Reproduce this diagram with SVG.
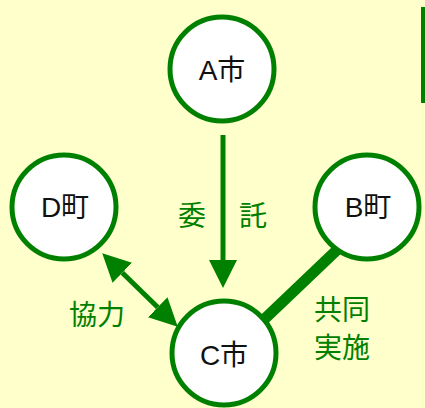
<svg xmlns="http://www.w3.org/2000/svg" width="425" height="408" viewBox="0 0 425 408">
  <defs>
    <style>
      .node circle { fill: #ffffff; stroke: #008000; stroke-width: 5; }
      .node text { font-family: "Liberation Sans", "Noto Sans CJK JP", sans-serif; font-size: 28px; fill: #111111; text-anchor: middle; }
      .label { font-family: "Noto Sans CJK JP", "Liberation Sans", sans-serif; font-size: 28px; fill: #008000; text-anchor: middle; }
      .conn { stroke: #008000; fill: none; }
    </style>
    <marker id="head" viewBox="0 0 28 28" markerUnits="userSpaceOnUse" markerWidth="28" markerHeight="28" refX="0" refY="14" orient="auto-start-reverse">
      <path d="M0,0 L28,14 L0,28 Z" fill="#008000"/>
    </marker>
  </defs>

  <!-- background -->
  <rect x="0" y="0" width="425" height="408" fill="#ffffcc"/>
  <!-- bar at the right edge -->
  <rect x="421" y="7" width="6" height="96" fill="#008000"/>

  <!-- connectors -->
  <g id="connectors">
    <!-- A -> C (委託) -->
    <line class="conn" x1="223" y1="135" x2="223" y2="260" stroke-width="5" marker-end="url(#head)"/>
    <!-- D <-> C (協力) -->
    <line class="conn" x1="122.3" y1="272.8" x2="157.7" y2="307.2" stroke-width="5" marker-start="url(#head)" marker-end="url(#head)"/>
    <!-- B - C (共同実施) -->
    <line class="conn" x1="232" y1="350" x2="360" y2="228" stroke-width="11"/>
  </g>

  <!-- nodes -->
  <g id="nodeA" class="node">
    <circle cx="222" cy="69" r="52"/>
    <text x="222" y="80">A市</text>
  </g>
  <g id="nodeD" class="node">
    <circle cx="64" cy="207" r="52"/>
    <text x="65" y="217">D町</text>
  </g>
  <g id="nodeB" class="node">
    <circle cx="367" cy="207" r="52"/>
    <text x="368" y="217">B町</text>
  </g>
  <g id="nodeC" class="node">
    <circle cx="224" cy="353" r="52"/>
    <text x="224" y="365">C市</text>
  </g>

  <!-- connector labels -->
  <g id="labels">
    <text class="label" x="192" y="226">委</text>
    <text class="label" x="253" y="226">託</text>
    <text class="label" x="97" y="325">協力</text>
    <text class="label" x="342" y="320">共同</text>
    <text class="label" x="342" y="358">実施</text>
  </g>
</svg>
